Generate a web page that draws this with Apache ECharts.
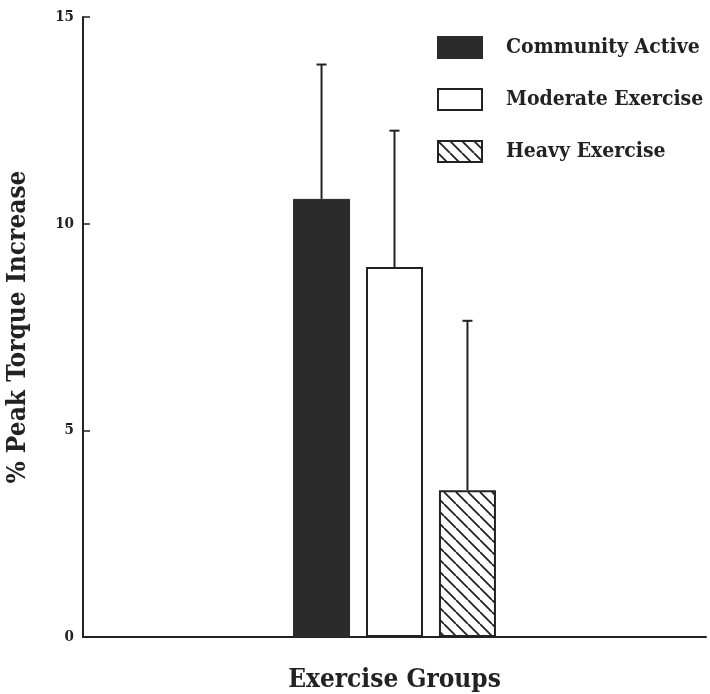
<!DOCTYPE html>
<html><head><meta charset="utf-8">
<script src="https://cdn.jsdelivr.net/npm/echarts@6/dist/echarts.min.js"></script>
<style>html,body{margin:0;padding:0;background:#fff}#c{width:710px;height:694px}</style>
</head><body><div id="c"></div>
<script>
const groups = ['Community Active', 'Moderate Exercise', 'Heavy Exercise'];
const means = [10.6, 8.95, 3.55];
const errTops = [13.85, 12.25, 7.65];
const yMin = 0, yMax = 15, yStep = 5;

const BAR_W = 57, GAP_RATIO = 0.28;
const INK = '#222';
const FONT = '"DejaVu Serif Condensed", "DejaVu Serif", serif';

function hatchCanvas() {
  const s = 12;
  const c = document.createElement('canvas');
  c.width = s; c.height = s;
  const g = c.getContext('2d');
  g.fillStyle = '#fff'; g.fillRect(0, 0, s, s);
  g.strokeStyle = INK; g.lineWidth = 1.8;
  g.beginPath();
  for (const k of [-s, 0, s]) { g.moveTo(k, 0); g.lineTo(k + s, s); }
  g.stroke();
  return c;
}

const styles = [
  { color: '#2b2b2b', borderColor: '#2b2b2b', borderWidth: 1 },
  { color: '#fff', borderColor: INK, borderWidth: 2 },
  { color: { image: hatchCanvas(), repeat: 'repeat' }, borderColor: INK, borderWidth: 2 }
];

const chart = echarts.init(document.getElementById('c'), null, { renderer: 'canvas' });

const barSeries = groups.map((g, i) => ({
  type: 'bar', name: g, data: [means[i]],
  barWidth: BAR_W, barGap: (GAP_RATIO * 100) + '%',
  itemStyle: styles[i], z: 2
}));

const errSeries = {
  type: 'custom', name: 'err', z: 5,
  data: means.map((m, i) => [0, m, errTops[i], i]),
  encode: { x: 0, y: [1, 2] },
  renderItem(params, api) {
    const i = api.value(3);
    const base = api.coord([0, api.value(1)]);
    const top = api.coord([0, api.value(2)]);
    const x = base[0] + (i - 1) * BAR_W * (1 + GAP_RATIO);
    return { type: 'group', children: [
      { type: 'line', shape: { x1: x, y1: base[1], x2: x, y2: top[1] }, style: { stroke: INK, lineWidth: 2 } },
      { type: 'line', shape: { x1: x - 5, y1: top[1], x2: x + 5, y2: top[1] }, style: { stroke: INK, lineWidth: 2 } }
    ]};
  }
};

chart.setOption({
  animation: false,
  backgroundColor: '#fff',
  grid: { left: 83, right: 4, top: 17, bottom: 57, outerBoundsMode: 'none', containLabel: false },
  legend: {
    data: groups, orient: 'vertical', left: 437, top: 36, padding: 0,
    itemWidth: 44, itemHeight: 21, itemGap: 29, icon: 'rect',
    textStyle: { fontFamily: FONT, fontWeight: 'bold', fontSize: 21, lineHeight: 21, color: INK, padding: [0, 0, 0, 19] }
  },
  xAxis: {
    type: 'category', data: [''],
    axisLine: { lineStyle: { color: INK, width: 2 } },
    axisTick: { show: false }, axisLabel: { show: false },
    name: 'Exercise Groups', nameLocation: 'middle', nameGap: 30,
    nameTextStyle: { fontFamily: FONT, fontWeight: 'bold', fontSize: 26, color: INK }
  },
  yAxis: {
    type: 'value', min: yMin, max: yMax, interval: yStep,
    axisLine: { show: true, lineStyle: { color: INK, width: 2 } },
    axisTick: { show: true, inside: true, length: 7, lineStyle: { color: INK, width: 1.5 } },
    splitLine: { show: false },
    axisLabel: { fontFamily: FONT, fontWeight: 'bold', fontSize: 15, color: INK, margin: 9 },
    name: '% Peak Torque Increase', nameLocation: 'middle', nameGap: 52,
    nameTextStyle: { fontFamily: FONT, fontWeight: 'bold', fontSize: 26, color: INK }
  },
  series: [...barSeries, errSeries]
});
</script></body></html>
